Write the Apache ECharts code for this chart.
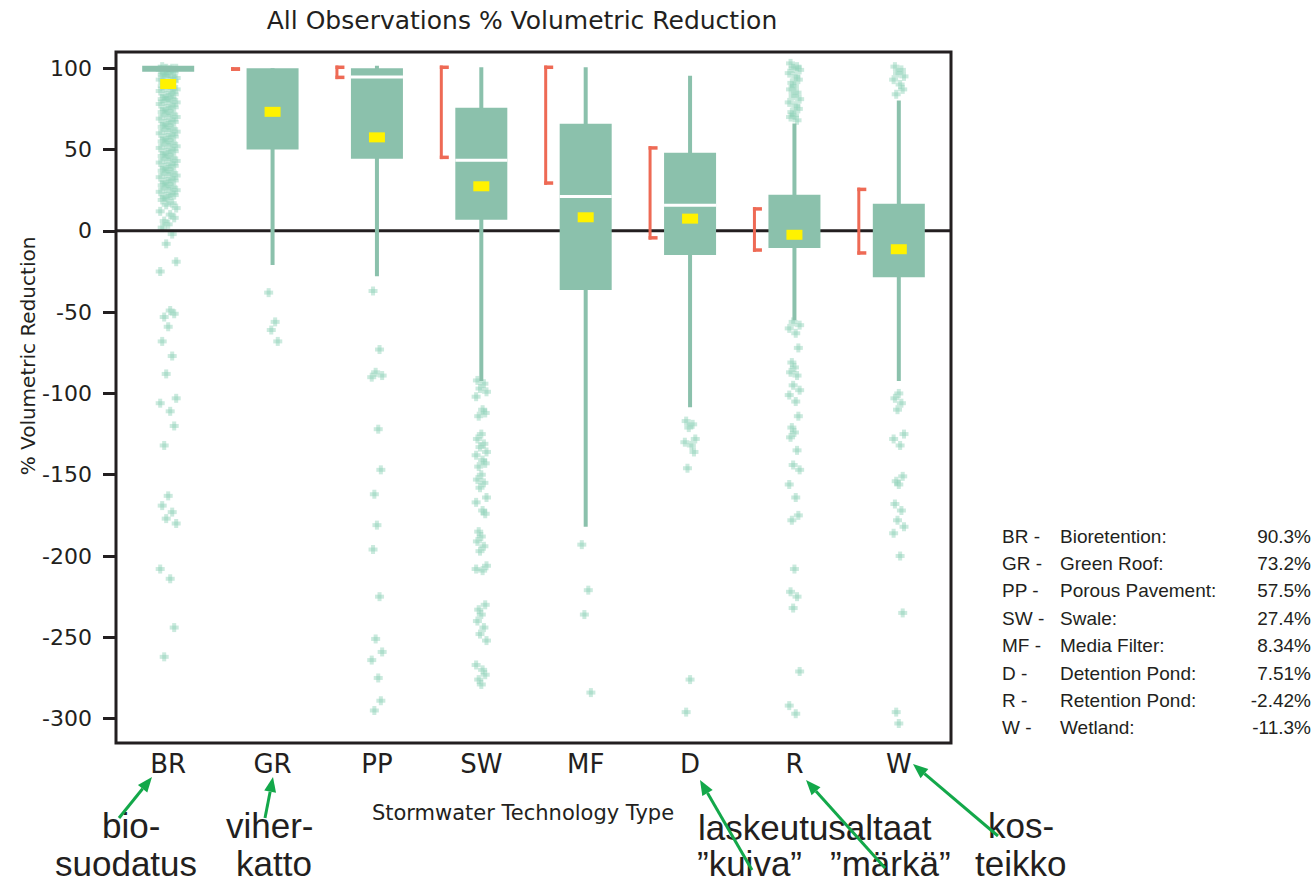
<!DOCTYPE html>
<html><head><meta charset="utf-8">
<script src="https://cdn.jsdelivr.net/npm/echarts@6/dist/echarts.min.js"></script>
<style>html,body{margin:0;padding:0;background:#fff}#c{width:1314px;height:881px}</style>
</head><body><div id="c"></div>
<script>
// ---------- data ----------
const categories = ['BR','GR','PP','SW','MF','D','R','W'];
const technologyNames = ['Bioretention:','Green Roof:','Porous Pavement:','Swale:','Media Filter:','Detention Pond:','Retention Pond:','Wetland:'];
const meanReduction = [90.3, 73.2, 57.5, 27.4, 8.34, 7.51, -2.42, -11.3];
const whiskerLow  = [null, -21, -28, -92.4, -182, -108.5, -55, -92.4];
const quartile1   = [97.8, 50, 44.3, 6.8, -36.4, -14.8, -10.5, -28.5];
const medianValue = [null, null, 94.6, 43.4, 21.2, 15.7, null, null];
const quartile3   = [101.5, 100, 100, 75.7, 65.8, 48, 22.2, 16.7];
const whiskerHigh = [null, null, 101.5, 100.6, 100.6, 95.4, 66, 80.2];
const medianCiLow  = [null, 99.5, 94.4, 45.2, 29.4, -4.3, -11.8, -13.6];
const medianCiHigh = [null, 99.5, 100.6, 100.6, 100.6, 51, 13.5, 25.5];
const yTicks = [100, 50, 0, -50, -100, -150, -200, -250, -300];

const pointsBR = [101,100,100,100,99,99,98,97,97,96,95,95,94,93,92,92,91,90,89,88,88,87,86,85,84,83,82,81,81,80,79,78,77,76,75,74,73,72,71,70,69,68,67,66,65,64,63,62,61,60,59,58,57,56,55,54,53,52,51,50,49,48,47,46,45,44,43,42,41,40,39,38,37,36,35,34,33,32,31,30,29,28,27,26,25,24,23,22,21,20,19,17,16,14,12,10,8,6,4,2,-2,-8,-19,-25,-49,-51,-53,-59,-68,-77,-88,-103,-106,-111,-120,-132,-163,-169,-173,-177,-180,-208,-214,-244,-262];
const pointsGR = [-38,-56,-61,-68];
const pointsPP = [-37,-73,-87,-89,-90,-122,-147,-162,-181,-196,-225,-251,-259,-264,-275,-289,-295];
const pointsSW = [-92,-94,-97,-99,-102,-110,-112,-114,-125,-128,-131,-133,-136,-138,-141,-143,-145,-150,-153,-155,-158,-164,-167,-172,-174,-185,-188,-191,-194,-197,-206,-208,-209,-230,-233,-236,-240,-244,-248,-252,-267,-270,-273,-276,-279];
const pointsMF = [-193,-221,-236,-284];
const pointsD  = [-117,-119,-121,-128,-130,-132,-136,-146,-276,-296];
const pointsR  = [103,101,100,99,97,95,93,91,89,87,85,83,81,79,77,75,73,71,70,68,-56,-58,-60,-63,-72,-81,-84,-87,-89,-95,-98,-101,-105,-114,-121,-124,-127,-135,-144,-147,-156,-164,-175,-178,-208,-222,-225,-232,-271,-292,-297];
const pointsW  = [101,99,97,95,93,90,87,84,-100,-103,-106,-110,-125,-128,-132,-151,-154,-156,-168,-172,-178,-182,-186,-200,-235,-296,-303];

// ---------- styles ----------
const TEAL = '#8bc1ac', YELLOW = '#fff200', RED = '#ee6a55', INK = '#231f20', GREEN = '#13a84a';
const FONT = 'DejaVu Sans';

const pointSets = [pointsBR, pointsGR, pointsPP, pointsSW, pointsMF, pointsD, pointsR, pointsW];
const pointData = [];
pointSets.forEach((arr, ci) => arr.forEach((v, k) => pointData.push([ci, v, k])));
const jitter = [-3, 2, -1, 4, -4, 1, 3, -2, 0];

const boxData = categories.map((c, i) => [i, quartile1[i], quartile3[i], meanReduction[i]]);

function renderPoint(params, api) {
  const ci = api.value(0), v = api.value(1), k = api.value(2);
  const p = api.coord([ci, v]);
  const dx = jitter[k % jitter.length] * (ci === 0 ? 2 : 1.3);
  const x = p[0] + dx, y = p[1];
  const fill = 'rgba(140,208,182,0.45)';
  return {type: 'group', children: [
    {type: 'rect', shape: {x: x - 4.5, y: y - 2, width: 9, height: 4}, style: {fill}},
    {type: 'rect', shape: {x: x - 2, y: y - 4.5, width: 4, height: 9}, style: {fill}}
  ]};
}

function renderBox(params, api) {
  const i = params.dataIndex;
  const cx = api.coord([i, 0])[0];
  const Y = v => api.coord([i, v])[1];
  const bw = 52, hw = bw / 2;
  const ch = [];
  const top = whiskerHigh[i] != null ? whiskerHigh[i] : quartile3[i];
  const bot = whiskerLow[i] != null ? whiskerLow[i] : quartile1[i];
  ch.push({type: 'rect', shape: {x: cx - 2, y: Y(top), width: 4, height: Y(bot) - Y(top)}, style: {fill: TEAL}});
  ch.push({type: 'rect', shape: {x: cx - hw, y: Y(quartile3[i]), width: bw, height: Y(quartile1[i]) - Y(quartile3[i])}, style: {fill: TEAL}});
  if (medianValue[i] != null) {
    ch.push({type: 'rect', shape: {x: cx - hw, y: Y(medianValue[i]) - 1.5, width: bw, height: 3}, style: {fill: '#fff'}});
  }
  ch.push({type: 'rect', shape: {x: cx - 8, y: Y(meanReduction[i]) - 5, width: 16, height: 10}, style: {fill: YELLOW}});
  if (medianCiLow[i] != null) {
    const yh = Y(medianCiHigh[i]), yl = Y(medianCiLow[i]);
    const bx = cx - 41.5;
    ch.push({type: 'rect', shape: {x: bx, y: yh - 1.75, width: 3, height: yl - yh + 3.5}, style: {fill: RED}});
    ch.push({type: 'rect', shape: {x: bx, y: yh - 1.75, width: 9, height: 3.5}, style: {fill: RED}});
    ch.push({type: 'rect', shape: {x: bx, y: yl - 1.75, width: 9, height: 3.5}, style: {fill: RED}});
  }
  return {type: 'group', children: ch};
}

function renderZero(params, api) {
  const cs = params.coordSys;
  const y = api.coord([0, 0])[1];
  return {type: 'line', shape: {x1: cs.x, y1: y, x2: cs.x + cs.width, y2: y}, style: {stroke: INK, lineWidth: 3}};
}

// ---------- annotations ----------
function arrow(x1, y1, x2, y2) {
  const ang = Math.atan2(y2 - y1, x2 - x1);
  const L = 15, W = 6;
  const bx = x2 - L * Math.cos(ang), by = y2 - L * Math.sin(ang);
  const px = -Math.sin(ang) * W, py = Math.cos(ang) * W;
  return {type: 'group', silent: true, children: [
    {type: 'line', shape: {x1, y1, x2: bx, y2: by}, style: {stroke: GREEN, lineWidth: 3}},
    {type: 'polygon', shape: {points: [[x2, y2], [bx + px, by + py], [bx - px, by - py]]}, style: {fill: GREEN}}
  ]};
}
function txt(text, x, y, size, family, align, extra, lh) {
  const style = {text, fontSize: size, fontFamily: family, fill: INK, textAlign: align || 'left', textVerticalAlign: 'middle'};
  if (lh) style.lineHeight = lh;
  return Object.assign({type: 'text', x, y, silent: true, style}, extra || {});
}
const AN = 'Liberation Sans';
const graphics = [
  txt('All Observations % Volumetric Reduction', 522, 20, 25, FONT, 'center'),
  txt('% Volumetric Reduction', 28, 356, 20, FONT, 'center', {rotation: Math.PI / 2}),
  txt('Stormwater Technology Type', 523, 813, 21, FONT, 'center', null, 22),
  txt('bio-', 102, 825, 35, AN, 'left', null, 33),
  txt('suodatus', 55, 863, 35, AN, 'left', null, 33),
  txt('viher-', 226, 825, 35, AN, 'left', null, 33),
  txt('katto', 236, 863, 35, AN, 'left', null, 33),
  txt('laskeutusaltaat', 698, 827, 35, AN, 'left', null, 33),
  txt('\u201dkuiva\u201d', 697, 863, 35, AN, 'left', null, 33),
  txt('\u201dmärkä\u201d', 830, 863, 35, AN, 'left', null, 33),
  txt('kos-', 988, 825, 35, AN, 'left', null, 33),
  txt('teikko', 975, 863, 35, AN, 'left', null, 33),
  arrow(119, 818, 152, 777),
  arrow(265, 818, 273, 777),
  arrow(752, 870, 700, 780),
  arrow(885, 868, 806, 780),
  arrow(998, 836, 913, 764)
];
categories.forEach((c, i) => {
  const y = 536 + 27.4 * i;
  graphics.push(txt(c + ' -', 1002, y, 19, AN, 'left', null, 22));
  graphics.push(txt(technologyNames[i], 1060, y, 19, AN, 'left', null, 22));
  graphics.push(txt(meanReduction[i] + '%', 1311, y, 19, AN, 'right', null, 22));
});

const chart = echarts.init(document.getElementById('c'), null, {renderer: 'svg'});
chart.setOption({
  animation: false,
  backgroundColor: '#fff',
  grid: {left: 116, right: 363, top: 52, bottom: 138, show: true, borderColor: INK, borderWidth: 3, backgroundColor: 'transparent'},
  xAxis: {
    type: 'category', data: categories,
    axisLine: {show: false}, axisTick: {show: false}, splitLine: {show: false},
    axisLabel: {fontSize: 26, color: INK, fontFamily: FONT, margin: 8}
  },
  yAxis: {
    type: 'value', min: -315, max: 110,
    axisLine: {show: false}, splitLine: {show: false},
    axisTick: {show: true, inside: false, length: 13, lineStyle: {color: INK, width: 3}, customValues: yTicks},
    axisLabel: {fontSize: 22, color: INK, fontFamily: FONT, margin: 24, customValues: yTicks}
  },
  series: [
    {type: 'custom', name: 'points', z: 2, renderItem: renderPoint, data: pointData, encode: {x: 0, y: 1}, silent: true},
    {type: 'custom', name: 'zero', z: 3, renderItem: renderZero, data: [[0, 0]], encode: {x: 0, y: 1}, silent: true},
    {type: 'custom', name: 'boxes', z: 4, renderItem: renderBox, data: boxData, encode: {x: 0, y: [1, 2]}, silent: true}
  ],
  graphic: graphics
});
</script>
</body></html>
